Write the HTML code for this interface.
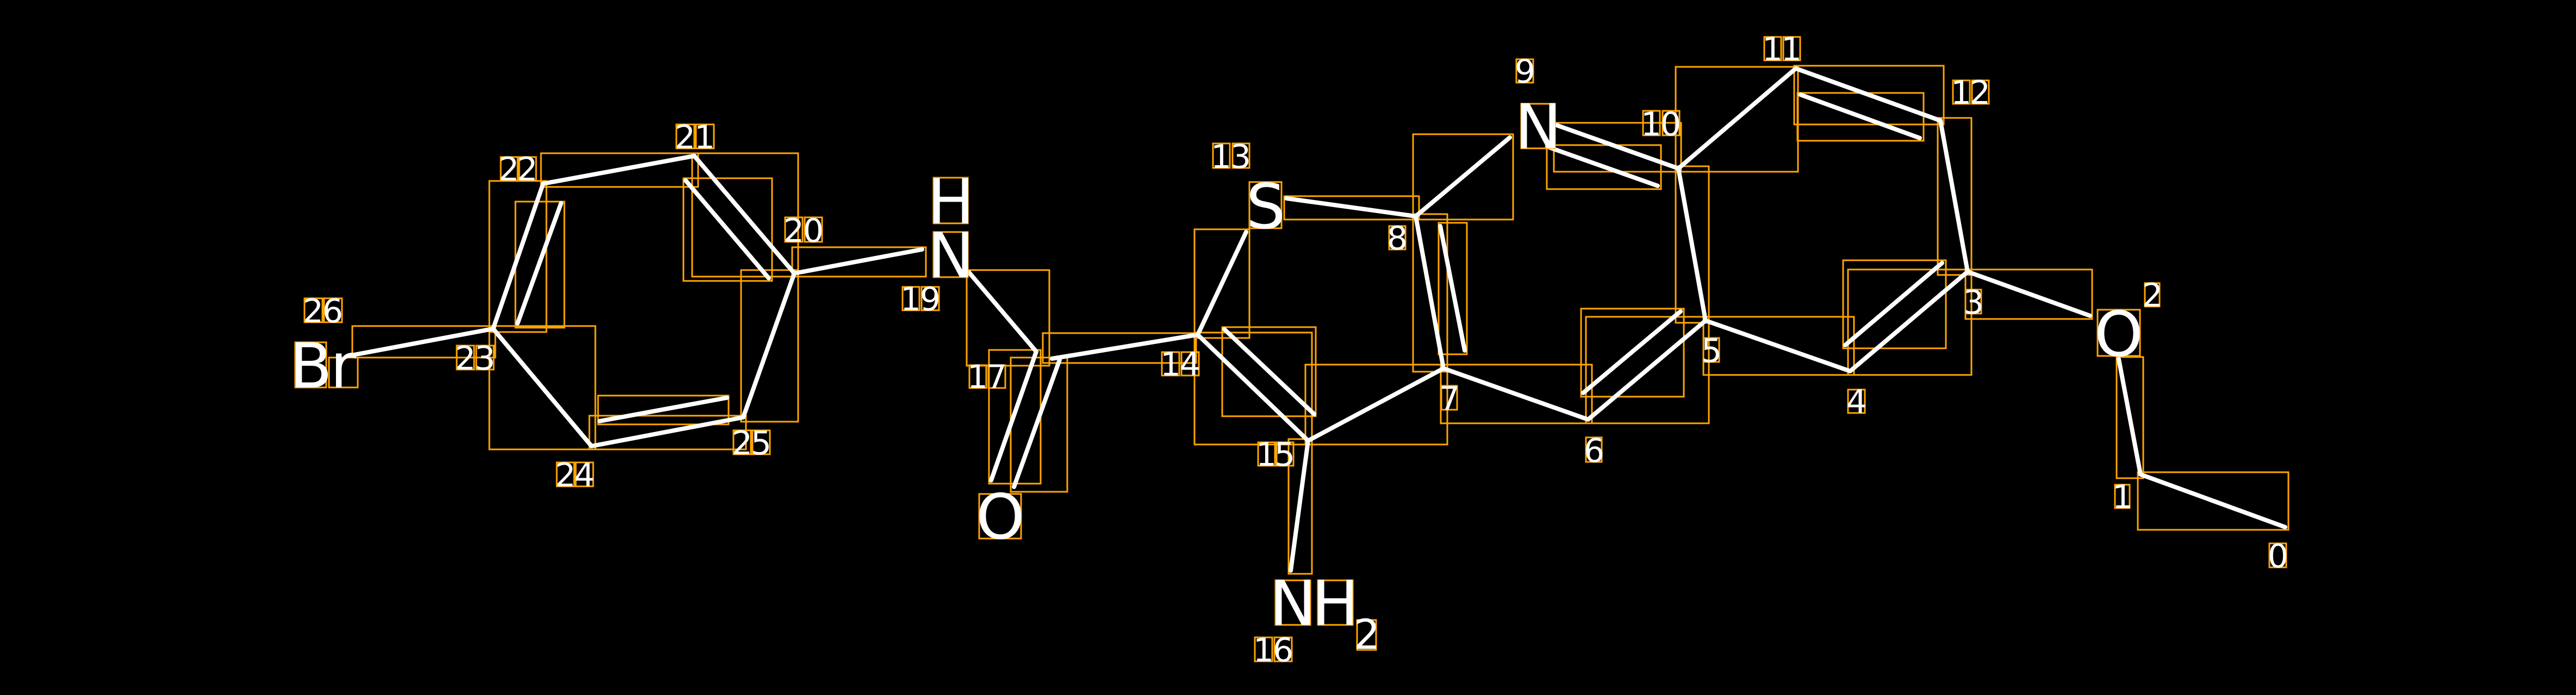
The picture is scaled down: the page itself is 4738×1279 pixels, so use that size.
<!DOCTYPE html>
<html><head><meta charset="utf-8"><style>
html,body{margin:0;padding:0;background:#000;}
svg{display:block;}
text{font-family:"DejaVu Sans","Liberation Sans",sans-serif;fill:#fff;text-anchor:middle;}
.s{font-size:60px;}
.b{font-size:114px;}
</style></head><body>
<svg width="4738" height="1279" viewBox="0 0 4738 1279" xmlns="http://www.w3.org/2000/svg">
<rect width="4738" height="1279" fill="#000"/>
<g fill="none" stroke="#FFA500" stroke-width="3">
<rect x="995" y="282" width="289" height="62"/>
<rect x="1273" y="282" width="195" height="227"/>
<rect x="1257" y="328" width="163" height="189"/>
<rect x="1457" y="455" width="246" height="54"/>
<rect x="900" y="333" width="105" height="278"/>
<rect x="948" y="371" width="90" height="232"/>
<rect x="648" y="600" width="263" height="58"/>
<rect x="900" y="600" width="195" height="227"/>
<rect x="1100" y="728" width="240" height="53"/>
<rect x="1084" y="765" width="288" height="62"/>
<rect x="1363" y="497" width="105" height="279"/>
<rect x="1778" y="497" width="152" height="176"/>
<rect x="1819" y="644" width="95" height="246"/>
<rect x="1859" y="658" width="104" height="247"/>
<rect x="1918" y="613" width="282" height="55"/>
<rect x="2197" y="422" width="101" height="200"/>
<rect x="2362" y="361" width="248" height="43"/>
<rect x="2599" y="247" width="184" height="157"/>
<rect x="2599" y="394" width="63" height="290"/>
<rect x="2646" y="410" width="52" height="242"/>
<rect x="2248" y="602" width="172" height="164"/>
<rect x="2197" y="612" width="216" height="206"/>
<rect x="2401" y="671" width="261" height="147"/>
<rect x="2370" y="808" width="43" height="248"/>
<rect x="2858" y="226" width="234" height="90"/>
<rect x="2845" y="267" width="210" height="81"/>
<rect x="3082" y="123" width="225" height="193"/>
<rect x="3082" y="306" width="61" height="288"/>
<rect x="2650" y="671" width="278" height="108"/>
<rect x="2908" y="568" width="189" height="162"/>
<rect x="2917" y="583" width="226" height="196"/>
<rect x="3133" y="583" width="277" height="107"/>
<rect x="3300" y="121" width="275" height="108"/>
<rect x="3306" y="171" width="232" height="88"/>
<rect x="3564" y="217" width="62" height="289"/>
<rect x="3390" y="479" width="189" height="162"/>
<rect x="3399" y="496" width="227" height="194"/>
<rect x="3615" y="496" width="233" height="91"/>
<rect x="3893" y="657" width="49" height="223"/>
<rect x="3932" y="869" width="277" height="106"/>
</g>
<g stroke="#fff" stroke-width="8" stroke-linecap="round">
<line x1="651" y1="653" x2="907" y2="605"/>
<line x1="907" y1="605" x2="999" y2="338"/>
<line x1="952" y1="595" x2="1032" y2="374"/>
<line x1="999" y1="338" x2="1277" y2="287"/>
<line x1="1277" y1="287" x2="1461" y2="503"/>
<line x1="1261" y1="332" x2="1414" y2="512"/>
<line x1="1461" y1="503" x2="1367" y2="768"/>
<line x1="1367" y1="768" x2="1088" y2="821"/>
<line x1="1103" y1="775" x2="1337" y2="732"/>
<line x1="1088" y1="821" x2="907" y2="605"/>
<line x1="1461" y1="503" x2="1696" y2="459"/>
<line x1="1782" y1="501" x2="1906" y2="647"/>
<line x1="1906" y1="647" x2="1823" y2="884"/>
<line x1="1949" y1="662" x2="1865" y2="896"/>
<line x1="1935" y1="660" x2="2203" y2="616"/>
<line x1="2203" y1="616" x2="2292" y2="427"/>
<line x1="2366" y1="365" x2="2604" y2="398"/>
<line x1="2604" y1="398" x2="2777" y2="253"/>
<line x1="2604" y1="398" x2="2655" y2="678"/>
<line x1="2649" y1="416" x2="2694" y2="645"/>
<line x1="2203" y1="616" x2="2406" y2="811"/>
<line x1="2252" y1="606" x2="2417" y2="762"/>
<line x1="2406" y1="811" x2="2655" y2="678"/>
<line x1="2406" y1="811" x2="2374" y2="1050"/>
<line x1="2862" y1="230" x2="3087" y2="310"/>
<line x1="2846" y1="270" x2="3049" y2="342"/>
<line x1="3087" y1="310" x2="3303" y2="126"/>
<line x1="3303" y1="126" x2="3569" y2="222"/>
<line x1="3311" y1="174" x2="3531" y2="254"/>
<line x1="3569" y1="222" x2="3619" y2="500"/>
<line x1="3619" y1="500" x2="3403" y2="683"/>
<line x1="3572" y1="484" x2="3394" y2="635"/>
<line x1="3619" y1="500" x2="3844" y2="581"/>
<line x1="3897" y1="661" x2="3937" y2="873"/>
<line x1="3937" y1="873" x2="4203" y2="970"/>
<line x1="3087" y1="310" x2="3137" y2="590"/>
<line x1="3137" y1="590" x2="3403" y2="683"/>
<line x1="3137" y1="590" x2="2921" y2="772"/>
<line x1="3091" y1="573" x2="2912" y2="723"/>
<line x1="2921" y1="772" x2="2655" y2="678"/>
</g>
<g fill="none" stroke="#FFA500" stroke-width="3">
<rect x="560" y="549" width="33" height="44"/><rect x="596" y="549" width="33" height="44"/>
<rect x="1244" y="229" width="33" height="44"/><rect x="1280" y="229" width="33" height="44"/>
<rect x="921" y="289" width="31" height="43"/><rect x="955" y="289" width="31" height="43"/>
<rect x="1444" y="400" width="32" height="45"/><rect x="1480" y="400" width="32" height="45"/>
<rect x="1660" y="528" width="31" height="43"/><rect x="1695" y="528" width="32" height="43"/>
<rect x="840" y="636" width="32" height="44"/><rect x="876" y="636" width="32" height="44"/>
<rect x="1024" y="851" width="32" height="44"/><rect x="1059" y="851" width="32" height="44"/>
<rect x="1349" y="792" width="32" height="44"/><rect x="1384" y="792" width="32" height="44"/>
<rect x="1783" y="672" width="31" height="42"/><rect x="1818" y="672" width="31" height="42"/>
<rect x="2231" y="264" width="31" height="45"/><rect x="2267" y="264" width="31" height="45"/>
<rect x="2137" y="648" width="32" height="43"/><rect x="2173" y="648" width="32" height="43"/>
<rect x="2314" y="814" width="31" height="43"/><rect x="2348" y="814" width="31" height="43"/>
<rect x="2308" y="1173" width="32" height="44"/><rect x="2344" y="1173" width="32" height="44"/>
<rect x="2555" y="416" width="30" height="43"/>
<rect x="2789" y="109" width="31" height="43"/>
<rect x="3022" y="204" width="31" height="45"/><rect x="3058" y="204" width="31" height="45"/>
<rect x="3245" y="68" width="31" height="43"/><rect x="3280" y="68" width="31" height="43"/>
<rect x="2651" y="710" width="29" height="44"/>
<rect x="2917" y="805" width="29" height="45"/>
<rect x="3133" y="622" width="29" height="44"/>
<rect x="3399" y="717" width="31" height="43"/>
<rect x="3592" y="148" width="31" height="43"/><rect x="3627" y="148" width="31" height="43"/>
<rect x="3615" y="533" width="29" height="44"/>
<rect x="3945" y="521" width="27" height="43"/>
<rect x="3890" y="892" width="27" height="43"/>
<rect x="4174" y="1000" width="31" height="44"/>
<rect x="543" y="630" width="57" height="83"/><rect x="605" y="658" width="53" height="55"/>
<rect x="1717" y="327" width="63" height="84"/>
<rect x="1717" y="427" width="63" height="83"/>
<rect x="1801" y="909" width="77" height="82"/>
<rect x="2298" y="335" width="59" height="85"/>
<rect x="2798" y="191" width="62" height="82"/>
<rect x="2346" y="1068" width="64" height="82"/><rect x="2424" y="1068" width="64" height="82"/><rect x="2496" y="1141" width="35" height="55"/>
<rect x="3858" y="570" width="78" height="85"/>
</g>
<g>
<text class="s" x="576" y="593">2</text><text class="s" x="612" y="593">6</text>
<text class="s" x="1260" y="273">2</text><text class="s" x="1296" y="273">1</text>
<text class="s" x="936" y="332">2</text><text class="s" x="970" y="332">2</text>
<text class="s" x="1460" y="445">2</text><text class="s" x="1496" y="445">0</text>
<text class="s" x="1675" y="571">1</text><text class="s" x="1711" y="571">9</text>
<text class="s" x="856" y="680">2</text><text class="s" x="892" y="680">3</text>
<text class="s" x="1040" y="895">2</text><text class="s" x="1075" y="895">4</text>
<text class="s" x="1365" y="836">2</text><text class="s" x="1400" y="836">5</text>
<text class="s" x="1798" y="714">1</text><text class="s" x="1833" y="714">7</text>
<text class="s" x="2246" y="309">1</text><text class="s" x="2282" y="309">3</text>
<text class="s" x="2153" y="691">1</text><text class="s" x="2189" y="691">4</text>
<text class="s" x="2329" y="857">1</text><text class="s" x="2363" y="857">5</text>
<text class="s" x="2324" y="1217">1</text><text class="s" x="2360" y="1217">6</text>
<text class="s" x="2570" y="459">8</text>
<text class="s" x="2805" y="152">9</text>
<text class="s" x="3037" y="249">1</text><text class="s" x="3073" y="249">0</text>
<text class="s" x="3260" y="111">1</text><text class="s" x="3295" y="111">1</text>
<text class="s" x="2666" y="754">7</text>
<text class="s" x="2932" y="850">6</text>
<text class="s" x="3148" y="666">5</text>
<text class="s" x="3415" y="760">4</text>
<text class="s" x="3607" y="191">1</text><text class="s" x="3642" y="191">2</text>
<text class="s" x="3630" y="577">3</text>
<text class="s" x="3959" y="564">2</text>
<text class="s" x="3904" y="935">1</text>
<text class="s" x="4190" y="1044">0</text>
</g>
<text class="b" x="572" y="713">B</text>
<text class="b" x="631" y="713">r</text>
<text class="b" x="1749" y="411">H</text>
<text class="b" x="1749" y="510">N</text>
<text class="b" x="1840" y="991">O</text>
<text class="b" x="2328" y="420">S</text>
<text class="b" x="2829" y="273">N</text>
<text class="b" x="2378" y="1150">N</text>
<text class="b" x="2456" y="1150">H</text>
<text x="2514" y="1194" style="font-size:76px">2</text>
<text class="b" x="3897" y="655">O</text>
</svg>
</body></html>
